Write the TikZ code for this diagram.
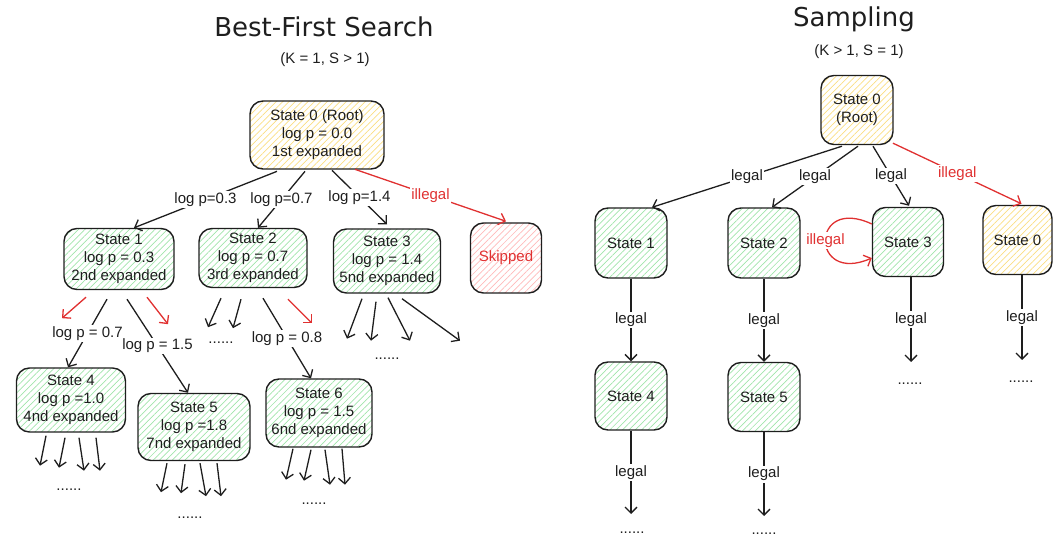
\documentclass[tikz,border=0pt]{standalone}
\usepackage{fontspec}
\setmainfont{Liberation Sans}
\newfontfamily\titlefont{DejaVu Sans}
\usetikzlibrary{arrows.meta,patterns.meta}
\definecolor{ink}{RGB}{30,30,30}
\definecolor{hgreen}{RGB}{160,228,170}
\definecolor{hyellow}{RGB}{250,222,130}
\definecolor{hred}{RGB}{255,185,185}
\definecolor{exred}{RGB}{224,49,49}
\newcommand\lblfont{\fontsize{15}{18}\selectfont}
\newcommand\ttlfont{\titlefont\fontsize{26}{30}\selectfont}
\tikzset{
  box/.style={draw=ink, line width=1.4pt, rounded corners=13pt, align=center, inner sep=0pt, text=ink, font=\lblfont},
  gbox/.style={box, pattern={Lines[angle=45,distance=4.5pt,line width=0.7pt]}, pattern color=hgreen},
  ybox/.style={box, pattern={Lines[angle=45,distance=4.5pt,line width=0.7pt]}, pattern color=hyellow},
  rbox/.style={box, pattern={Lines[angle=45,distance=4.5pt,line width=0.7pt]}, pattern color=hred, text=exred},
  arr/.style={draw=ink, line width=1.3pt, -{Straight Barb[length=6pt,width=12pt]}},
  rarr/.style={arr, draw=exred},
  lab/.style={fill=white, inner sep=1.5pt, text=ink, font=\lblfont},
  rlab/.style={lab, text=exred},
  dotsn/.style={anchor=base, inner sep=0pt, text=ink, font=\lblfont},
}
\begin{document}
\begin{tikzpicture}[x=1pt,y=-1pt]
\useasboundingbox (0,0) rectangle (1053,537);
% titles
\node[anchor=base, font=\ttlfont, text=ink] (T1) at (324,37) {Best-First Search};
\node[anchor=base, font=\lblfont, text=ink] (S1) at (325,64) {(K = 1, S > 1)};
\node[anchor=base, font=\ttlfont, text=ink] (T2) at (854,27) {Sampling};
\node[anchor=base, font=\lblfont, text=ink] (S2) at (859,56) {(K > 1, S = 1)};

% ---------- left tree ----------
\node[ybox, minimum width=134pt, minimum height=68pt] (L0) at (317,135) {State 0 (Root)\\log p = 0.0\\1st expanded};
\node[gbox, minimum width=110pt, minimum height=61pt] (L1) at (119,259) {State 1\\log p = 0.3\\2nd expanded};
\node[gbox, minimum width=108pt, minimum height=59pt] (L2) at (253,258) {State 2\\log p = 0.7\\3rd expanded};
\node[gbox, minimum width=107pt, minimum height=64pt] (L3) at (387,261) {State 3\\log p = 1.4\\5nd expanded};
\node[rbox, minimum width=71pt, minimum height=70pt] (LS) at (506,258) {Skipped};
\node[gbox, minimum width=109pt, minimum height=64pt] (L4) at (71,400) {State 4\\log p =1.0\\4nd expanded};
\node[gbox, minimum width=112pt, minimum height=67pt] (L5) at (194,427) {State 5\\log p =1.8\\7nd expanded};
\node[gbox, minimum width=106pt, minimum height=68pt] (L6) at (319,413) {State 6\\log p = 1.5\\6nd expanded};

\draw[arr] ([xshift=-40pt,yshift=-2pt]L0.south) -- node[lab]{log p=0.3} ([xshift=15pt]L1.north);
\draw[arr] ([xshift=-12pt,yshift=-2pt]L0.south) -- node[lab]{log p=0.7} ([xshift=5pt]L2.north);
\draw[arr] ([xshift=15pt,yshift=-1pt]L0.south) -- node[lab]{log p=1.4} ([yshift=4pt]L3.north);
\draw[rarr] ([xshift=38pt]L0.south) -- node[rlab]{illegal} ([yshift=1pt]LS.north);

% State 1 children
\draw[rarr] ([xshift=-33pt,yshift=-7pt]L1.south) -- ++(-24,21);
\draw[arr] ([xshift=-12pt,yshift=-9pt]L1.south) -- node[lab]{log p = 0.7} ([xshift=-3pt]L4.north);
\draw[arr] ([xshift=8pt,yshift=-9pt]L1.south) -- node[lab]{log p = 1.5} ([xshift=-6pt]L5.north);
\draw[rarr] ([xshift=28pt,yshift=-7pt]L1.south) -- ++(21,27);

% State 2 children
\draw[arr] ([xshift=-32pt,yshift=-10pt]L2.south) -- ++(-13,29);
\draw[arr] ([xshift=-12pt,yshift=-11pt]L2.south) -- ++(-8,29);
\node[dotsn] (D2) at (221,344) {......};
\draw[arr] ([xshift=10pt,yshift=-10pt]L2.south) -- node[lab]{log p = 0.8} ([xshift=-8pt]L6.north);
\draw[rarr] ([xshift=35pt,yshift=-11pt]L2.south) -- ++(24,24);

% State 3 children
\draw[arr] ([xshift=-25pt,yshift=-5pt]L3.south) -- ++(-15,40);
\draw[arr] ([xshift=-11pt,yshift=-8pt]L3.south) -- ++(-5,39);
\draw[arr] ([xshift=1pt,yshift=-4pt]L3.south) -- ++(22,43);
\draw[arr] ([xshift=15pt,yshift=-5pt]L3.south) -- ++(58,42);
\node[dotsn] (D3) at (387,360) {......};

% State 4 children
\draw[arr] ([xshift=-25pt,yshift=-3pt]L4.south) -- ++(-6,30);
\draw[arr] ([xshift=-6pt,yshift=-5pt]L4.south) -- ++(-6,30);
\draw[arr] ([xshift=8pt,yshift=-5pt]L4.south) -- ++(5,33);
\draw[arr] ([xshift=25pt,yshift=-5pt]L4.south) -- ++(4,33);
\node[dotsn] (D4) at (69,490) {......};

% State 5 children
\draw[arr] ([xshift=-27pt,yshift=-2pt]L5.south) -- ++(-6,29);
\draw[arr] ([xshift=-9pt,yshift=-3pt]L5.south) -- ++(-4,29);
\draw[arr] ([xshift=6pt,yshift=-2pt]L5.south) -- ++(6,33);
\draw[arr] ([xshift=23pt,yshift=-2pt]L5.south) -- ++(4,33);
\node[dotsn] (D5) at (190,518) {......};

% State 6 children
\draw[arr] ([xshift=-26pt,yshift=-1pt]L6.south) -- ++(-7,31);
\draw[arr] ([xshift=-8pt,yshift=-2pt]L6.south) -- ++(-7,31);
\draw[arr] ([xshift=6pt,yshift=-2pt]L6.south) -- ++(5,35);
\draw[arr] ([xshift=23pt,yshift=-1pt]L6.south) -- ++(3,36);
\node[dotsn] (D6) at (314,504) {......};

% ---------- right tree ----------
\node[ybox, minimum width=72pt, minimum height=69pt] (R0) at (857,110) {State 0\\(Root)};
\node[gbox, minimum width=72pt, minimum height=70pt] (R1) at (631,243) {State 1};
\node[gbox, minimum width=72pt, minimum height=70pt] (R2) at (764,243) {State 2};
\node[gbox, minimum width=71pt, minimum height=69pt] (R3) at (908,242) {State 3};
\node[ybox, minimum width=69pt, minimum height=69pt] (RX) at (1017.5,240) {State 0};
\node[gbox, minimum width=72pt, minimum height=68pt] (R4) at (631,396) {State 4};
\node[gbox, minimum width=72pt, minimum height=69pt] (R5) at (764,397) {State 5};

\draw[arr] ([xshift=-15pt,yshift=-1pt]R0.south) -- node[lab]{legal} ([xshift=21pt]R1.north);
\draw[arr] ([xshift=1pt,yshift=-1pt]R0.south) -- node[lab]{legal} ([xshift=8pt]R2.north);
\draw[arr] ([xshift=16pt,yshift=-1pt]R0.south) -- node[lab]{legal} ([xshift=1pt,yshift=1pt]R3.north);
\draw[rarr] ([xshift=36pt,yshift=2pt]R0.south) -- node[rlab]{illegal} ([xshift=4pt,yshift=1pt]RX.north);

\draw[rarr] ([yshift=18pt]R3.west) .. controls (810,195) and (810,285) .. node[rlab]{illegal} ([yshift=-16pt]R3.west);

\draw[arr] (R1) -- node[lab]{legal} (R4);
\draw[arr] (R2) -- node[lab]{legal} (R5);

\coordinate (E3) at (911,362);
\draw[arr] ([xshift=3pt]R3.south) -- node[lab]{legal} (E3);
\node[dotsn] (DR3) at (910,385) {......};

\coordinate (EX) at (1022,360);
\draw[arr] ([xshift=4.5pt]RX.south) -- node[lab]{legal} (EX);
\node[dotsn] (DRX) at (1021,383) {......};

\coordinate (E4) at (631,514);
\draw[arr] (R4.south) -- node[lab]{legal} (E4);
\node[dotsn] (DR4) at (632,533) {......};

\coordinate (E5) at (764,516);
\draw[arr] (R5.south) -- node[lab]{legal} (E5);
\node[dotsn] (DR5) at (764,534) {......};
\end{tikzpicture}
\end{document}
